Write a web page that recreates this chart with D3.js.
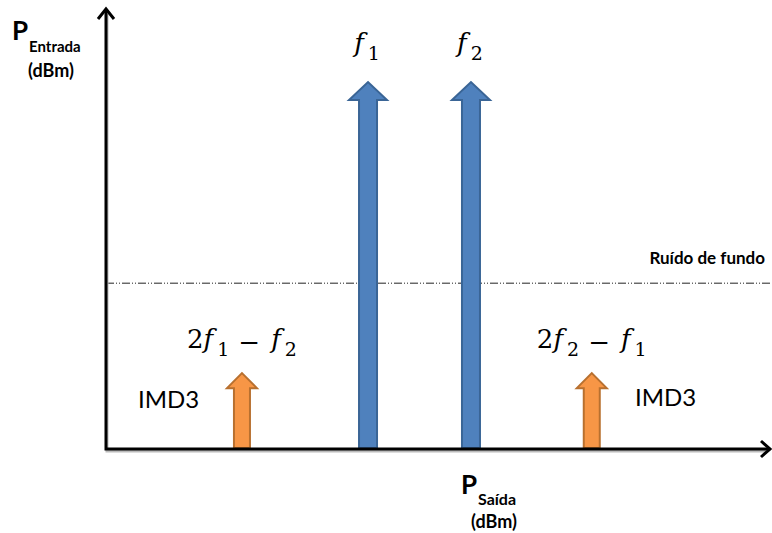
<!DOCTYPE html>
<html>
<head>
<meta charset="utf-8">
<script src="https://cdn.jsdelivr.net/npm/d3@7"></script>
<style>
  body { margin: 0; background: #fff; }
  svg { display: block; }
  .lbl { font-family: Lato, "Open Sans", sans-serif; fill: #000; }
  .math { font-family: "DejaVu Serif", "Liberation Serif", serif; fill: #000; }
</style>
</head>
<body>
<svg id="chart" width="772" height="533"></svg>
<script>
// tones (arbitrary frequency units) and their power (arbitrary units)
var toneNames = ["2f1-f2", "f1", "f2", "2f2-f1"];
var toneFreq = [2.06, 3.97, 5.53, 7.36];
var tonePower = [1.72, 8.32, 8.32, 1.72];
var toneKind = ["imd", "main", "main", "imd"];
var noiseFloor = 3.76;

var width = 772, height = 533;
var svg = d3.select("#chart");

var x = d3.scaleLinear().domain([0, 10]).range([106, 766]);
var y = d3.scaleLinear().domain([0, 10]).range([449, 8]);

var colors = {
  main: { fill: "#4f81bd", stroke: "#3a6596", shaft: 18, head: 38, headH: 18 },
  imd:  { fill: "#f79646", stroke: "#b8702f", shaft: 16, head: 30, headH: 15 }
};

function arrowPath(cx, top, bottom, c) {
  var s = c.shaft / 2, h = c.head / 2;
  return "M" + (cx - s) + "," + bottom +
    "L" + (cx - s) + "," + (top + c.headH) +
    "L" + (cx - h) + "," + (top + c.headH) +
    "L" + cx + "," + top +
    "L" + (cx + h) + "," + (top + c.headH) +
    "L" + (cx + s) + "," + (top + c.headH) +
    "L" + (cx + s) + "," + bottom + "Z";
}

// noise floor
svg.append("line")
  .attr("x1", x(0)).attr("x2", 770)
  .attr("y1", y(noiseFloor)).attr("y2", y(noiseFloor))
  .attr("stroke", "#222").attr("stroke-width", 1)
  .attr("stroke-dasharray", "8,2,1,2,1,2");

svg.append("text").attr("class", "lbl")
  .attr("x", 765).attr("y", 264)
  .attr("text-anchor", "end")
  .attr("font-size", 17).attr("font-weight", "bold")
  .text("Ruído de fundo");

// tone arrows
toneFreq.forEach(function(f, i) {
  var c = colors[toneKind[i]];
  svg.append("path")
    .attr("d", arrowPath(x(f), y(tonePower[i]), y(0) - 1, c))
    .attr("fill", c.fill)
    .attr("stroke", c.stroke)
    .attr("stroke-width", 2)
    .attr("stroke-linejoin", "miter");
});

// axes shadow + axes
var axisG = svg.append("g");
axisG.append("path")
  .attr("d", "M" + (x(0) + 1) + ",14 L" + (x(0) + 1) + "," + (y(0) + 2) + " L766," + (y(0) + 2))
  .attr("fill", "none").attr("stroke", "#bbb").attr("stroke-width", 3);
axisG.append("path")
  .attr("d", "M" + x(0) + ",10 L" + x(0) + "," + y(0) + " L768," + y(0))
  .attr("fill", "none").attr("stroke", "#000").attr("stroke-width", 3)
  .attr("stroke-linejoin", "miter");
axisG.append("path")
  .attr("d", "M" + (x(0) - 8) + ",19 L" + x(0) + ",9 L" + (x(0) + 8) + ",19")
  .attr("fill", "none").attr("stroke", "#000").attr("stroke-width", 3);
axisG.append("path")
  .attr("d", "M761," + (y(0) - 8) + " L770," + y(0) + " L761," + (y(0) + 8))
  .attr("fill", "none").attr("stroke", "#000").attr("stroke-width", 3);

// tone labels (math style)
function mathLabel(cx, cy, parts) {
  var t = svg.append("text").attr("class", "math")
    .attr("x", cx).attr("y", cy).attr("text-anchor", "middle")
    .attr("font-size", 26);
  parts.forEach(function(p) {
    var ts = t.append("tspan").text(p.t);
    if (p.i) ts.attr("font-style", "italic");
    if (p.sub) ts.attr("font-size", 19).attr("dy", 8).attr("dx", 4);
    if (p.up) ts.attr("dy", p.up);
    if (p.dx) ts.attr("dx", p.dx);
  });
}
mathLabel(x(toneFreq[1]) - 1, 52, [{ t: "f", i: true }, { t: "1", sub: true }]);
mathLabel(x(toneFreq[2]) - 1, 52, [{ t: "f", i: true }, { t: "2", sub: true }]);
mathLabel(x(toneFreq[0]), 348, [{ t: "2" }, { t: "f", i: true }, { t: "1", sub: true },
  { t: "−", up: -5, dx: 9 }, { t: "f", i: true, dx: 11, up: -3 }, { t: "2", sub: true }]);
mathLabel(x(toneFreq[3]), 348, [{ t: "2" }, { t: "f", i: true }, { t: "2", sub: true },
  { t: "−", up: -5, dx: 9 }, { t: "f", i: true, dx: 11, up: -3 }, { t: "1", sub: true }]);

// IMD3 labels
svg.append("text").attr("class", "lbl")
  .attr("x", 138).attr("y", 408).attr("font-size", 24).text("IMD3");
svg.append("text").attr("class", "lbl")
  .attr("x", 635).attr("y", 406).attr("font-size", 24).text("IMD3");

// axis titles
svg.append("text").attr("class", "lbl")
  .attr("x", 12).attr("y", 40).attr("font-size", 26).attr("font-weight", "bold").text("P");
svg.append("text").attr("class", "lbl")
  .attr("x", 29).attr("y", 52).attr("font-size", 15).attr("font-weight", "bold").text("Entrada");
svg.append("text").attr("class", "lbl")
  .attr("x", 28).attr("y", 77).attr("font-size", 18).attr("font-weight", "bold").text("(dBm)");

svg.append("text").attr("class", "lbl")
  .attr("x", 461).attr("y", 494).attr("font-size", 26).attr("font-weight", "bold").text("P");
svg.append("text").attr("class", "lbl")
  .attr("x", 478).attr("y", 505).attr("font-size", 16).attr("font-weight", "bold").text("Saída");
svg.append("text").attr("class", "lbl")
  .attr("x", 471).attr("y", 528).attr("font-size", 18).attr("font-weight", "bold").text("(dBm)");
</script>
</body>
</html>
